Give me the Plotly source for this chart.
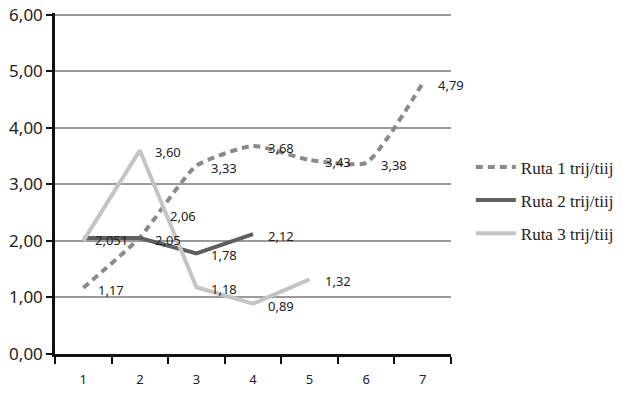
import plotly.graph_objects as go

categories = ["1", "2", "3", "4", "5", "6", "7"]
series_names = ["Ruta 1 trij/tiij", "Ruta 2 trij/tiij", "Ruta 3 trij/tiij"]
ruta1 = [1.17, 2.06, 3.33, 3.68, 3.43, 3.38, 4.79]
ruta2 = [2.051, 2.05, 1.78, 2.12]
ruta3 = [2.00, 3.60, 1.18, 0.89, 1.32]
ruta1_labels = ["1,17", "2,06", "3,33", "3,68", "3,43", "3,38", "4,79"]
ruta2_labels = ["2,051", "2,05", "1,78", "2,12"]
ruta3_labels = ["", "3,60", "1,18", "0,89", "1,32"]
y_ticks = [0, 1, 2, 3, 4, 5, 6]
y_tick_text = ["0,00", "1,00", "2,00", "3,00", "4,00", "5,00", "6,00"]

colors = ["#8a8a8a", "#5f5f5f", "#c4c4c4"]

fig = go.Figure()
fig.add_trace(go.Scatter(x=categories[:len(ruta1)], y=ruta1, mode="lines", name=series_names[0],
                         line=dict(color=colors[0], width=4, dash="7px,5px", shape="spline", smoothing=0.5),
                         legendgroup="a"))
fig.add_trace(go.Scatter(x=categories[:len(ruta2)], y=ruta2, mode="lines", name=series_names[1],
                         line=dict(color=colors[1], width=4), legendgroup="b"))
fig.add_trace(go.Scatter(x=categories[:len(ruta3)], y=ruta3, mode="lines", name=series_names[2],
                         line=dict(color=colors[2], width=4), legendgroup="c"))

# label offsets (style only)
special = {(0, 1): (43, 22)}
for s, (vals, labs) in enumerate([(ruta1, ruta1_labels), (ruta2, ruta2_labels), (ruta3, ruta3_labels)]):
    for i, (v, t) in enumerate(zip(vals, labs)):
        if not t:
            continue
        xs, ys = special.get((s, i), (28, -2))
        fig.add_annotation(x=i, y=v, text=t, showarrow=False, xshift=xs, yshift=ys,
                           xanchor="center", yanchor="middle",
                           font=dict(family="Noto Sans", size=13, color="#222222"))

fig.update_layout(
    width=623, height=395,
    margin=dict(l=55, r=172, t=13, b=41, autoexpand=False),
    paper_bgcolor="white", plot_bgcolor="white",
    showlegend=True,
    legend=dict(x=1.05, y=0.60, xanchor="left", yanchor="top",
                font=dict(family="Liberation Serif", size=17, color="#222222"),
                tracegroupgap=8, itemwidth=40, bgcolor="rgba(0,0,0,0)"),
    font=dict(family="Noto Sans", color="#222222"),
)
fig.update_xaxes(type="category", categoryorder="array", categoryarray=categories,
                 range=[-0.5, 6.5], tickson="boundaries", ticks="outside", ticklen=7, tickwidth=2,
                 tickcolor="#111111", showline=True, linecolor="#111111", linewidth=2.5,
                 showgrid=False, tickfont=dict(family="Noto Sans", size=13, color="#222222"),
                 ticklabelstandoff=12, automargin=False)
fig.update_yaxes(range=[0, 6.03], tickvals=y_ticks, ticktext=y_tick_text, ticks="outside", ticklen=6,
                 tickwidth=2, tickcolor="#111111", showline=True, linecolor="#111111", linewidth=2.5,
                 showgrid=True, gridcolor="#9a9a9a", gridwidth=2, zeroline=False,
                 tickfont=dict(family="Noto Sans", size=17, color="#222222"), automargin=False)

# remove the default 8px page margin so the figure sits at the window's origin
fig.write_html("out.html", config={"displayModeBar": False},
               post_script="document.body.style.margin='0';")
